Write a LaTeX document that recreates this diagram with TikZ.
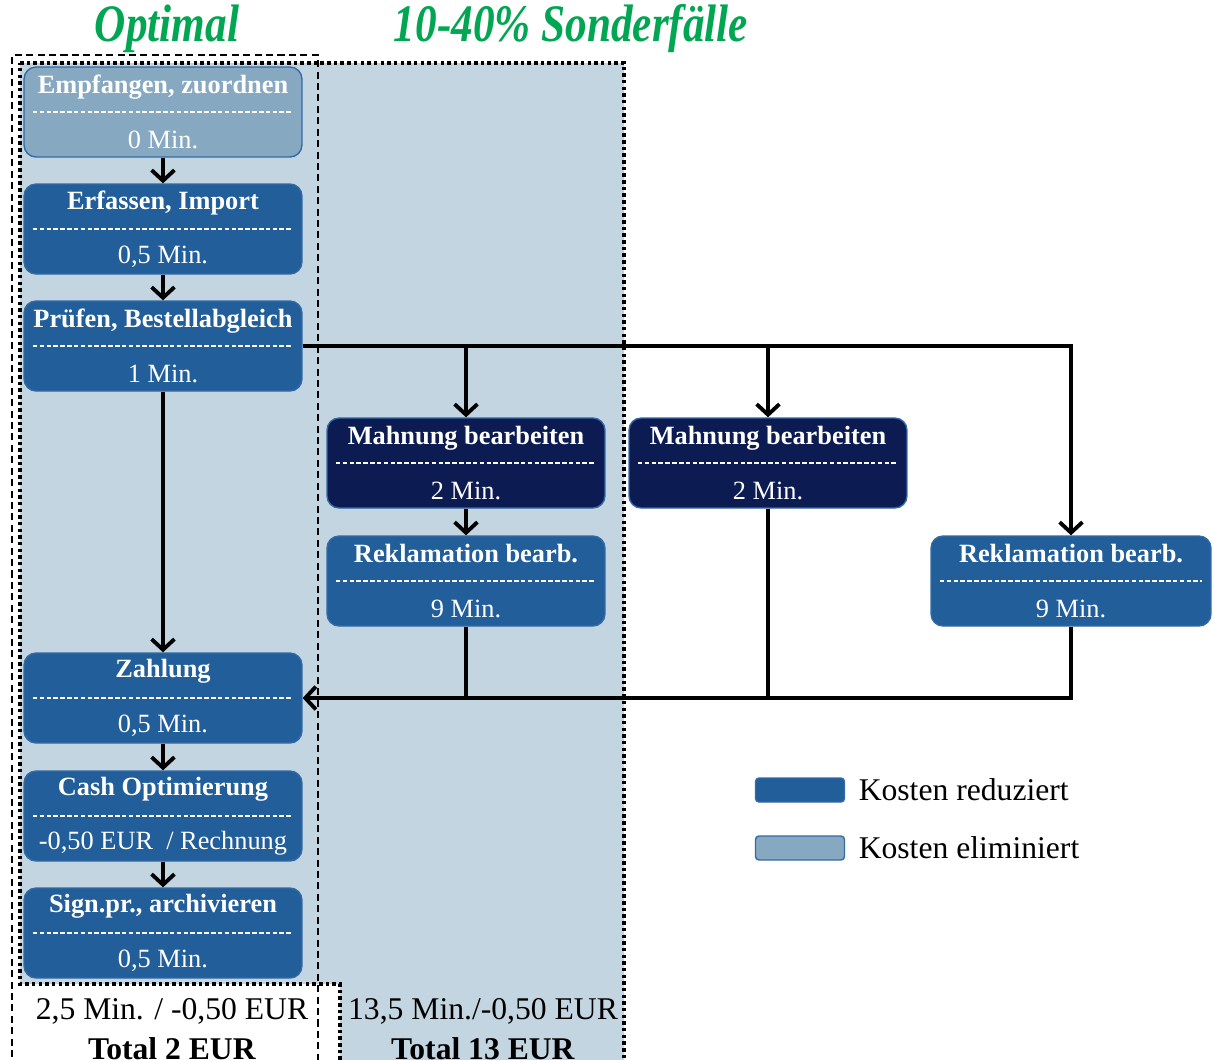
\documentclass[tikz,border=0pt]{standalone}
\usepackage{fontspec}
\setmainfont{Liberation Serif}
\usetikzlibrary{arrows.meta}
\definecolor{pgreen}{RGB}{0, 166, 81}
\definecolor{pback}{RGB}{195, 213, 225}
\definecolor{pblue}{RGB}{34, 94, 154}
\definecolor{plight}{RGB}{135, 168, 193}
\definecolor{pnavy}{RGB}{12, 28, 82}
\definecolor{pedge}{RGB}{52, 106, 166}

\begin{document}
\begin{tikzpicture}[x = 0.02cm, y = -0.02cm, line width = 2.2pt, >={Straight Barb[length = 6pt, width = 13pt]},
procbox/.style = {rounded corners = 0.24cm, draw = pedge, line width = 0.8pt, fill = pblue, text = white,
  minimum width = 5.56cm, minimum height = 1.8cm, align = center, inner sep = 0pt, font = \fontsize{15}{18}\selectfont,
  path picture = {\draw[white, line width = 0.9pt, dash pattern = on 2.6pt off 1.3pt]
    ([xshift = 5pt]path picture bounding box.west) -- ([xshift = -5pt]path picture bounding box.east);}},
head/.style = {text = pgreen, font = \fontsize{30}{36}\selectfont\bfseries\itshape},
sum/.style = {font = \fontsize{18}{23}\selectfont, align = center},
legend/.style = {rounded corners = 2pt, draw = pedge, line width = 0.8pt, minimum width = 1.78cm, minimum height = 0.48cm, inner sep = 0pt}]
\useasboundingbox (0,0) rectangle (1213,1059);
% regions
\fill[pback] (20,63) -- (624,63) -- (624,1080) -- (340,1080) -- (340,984) -- (20,984) -- cycle;
\draw[line width = 2pt, dash pattern = on 2pt off 1.8pt] (20,63) -- (624,63) -- (624,1080) (340,1080) -- (340,984) -- (20,984) -- (20,63);
\draw[line width = 1.2pt, dash pattern = on 4pt off 2.5pt] (12,1080) -- (12,55) -- (318,55) -- (318,1080);
\node[head] (hopt) at (167,29) {\scalebox{0.82}[1]{Optimal}};
\node[head] (hsond) at (571,29) {\scalebox{0.82}[1]{10-40\% Sonderfälle}};
% optimal path
\node[procbox, fill = plight] (emp) at (163,112) {\textbf{Empfangen, zuordnen}\\[13pt]0 Min.};
\node[procbox] (erf) at (163,229) {\textbf{Erfassen, Import}\\[13pt]0,5 Min.};
\node[procbox] (pruef) at (163,346) {\textbf{Prüfen, Bestellabgleich}\\[13pt]1 Min.};
\node[procbox] (zahl) at (163,698) {\textbf{Zahlung}\\[13pt]0,5 Min.};
\node[procbox] (cash) at (163,816) {\textbf{Cash Optimierung}\\[13pt]-0,50 EUR~ / Rechnung};
\node[procbox] (sign) at (163,933) {\textbf{Sign.pr., archivieren}\\[13pt]0,5 Min.};
% special cases
\node[procbox, fill = pnavy] (mahn1) at (466,463) {\textbf{Mahnung bearbeiten}\\[13pt]2 Min.};
\node[procbox] (rekl1) at (466,581) {\textbf{Reklamation bearb.}\\[13pt]9 Min.};
\node[procbox, fill = pnavy] (mahn2) at (768,463) {\textbf{Mahnung bearbeiten}\\[13pt]2 Min.};
\node[procbox, minimum width = 5.6cm] (rekl2) at (1071,581) {\textbf{Reklamation bearb.}\\[13pt]9 Min.};
\foreach \a/\b in {emp/erf, erf/pruef, zahl/cash, cash/sign}
  \draw[->] (\a) -- (\b);
\draw[->] (pruef) -- (zahl);
\draw[->] (mahn1) -- (rekl1);
\draw[->] (pruef.east) -| (rekl2.north);
\draw[->] (mahn1.north |- pruef.east) -- (mahn1.north);
\draw[->] (mahn2.north |- pruef.east) -- (mahn2.north);
\draw[->] (rekl2.south) |- (zahl.east);
\draw (rekl1.south) -- (rekl1.south |- zahl.east);
\draw (mahn2.south) -- (mahn2.south |- zahl.east);
% legend
\node[legend, fill = pblue] (legred) at (800,790) {};
\node[legend, fill = plight] (legelim) at (800,848) {};
\node[anchor = west, font = \fontsize{18}{22}\selectfont] (txtred) at (851,790) {Kosten reduziert};
\node[anchor = west, font = \fontsize{18}{22}\selectfont] (txtelim) at (851,848) {Kosten eliminiert};
% totals
\node[sum] (sumopt) at (172,1029) {2,5 Min. / -0,50 EUR\\\textbf{Total 2 EUR}};
\node[sum] (sumsond) at (483,1029) {13,5 Min./-0,50 EUR\\\textbf{Total 13 EUR}};
\end{tikzpicture}
\end{document}
